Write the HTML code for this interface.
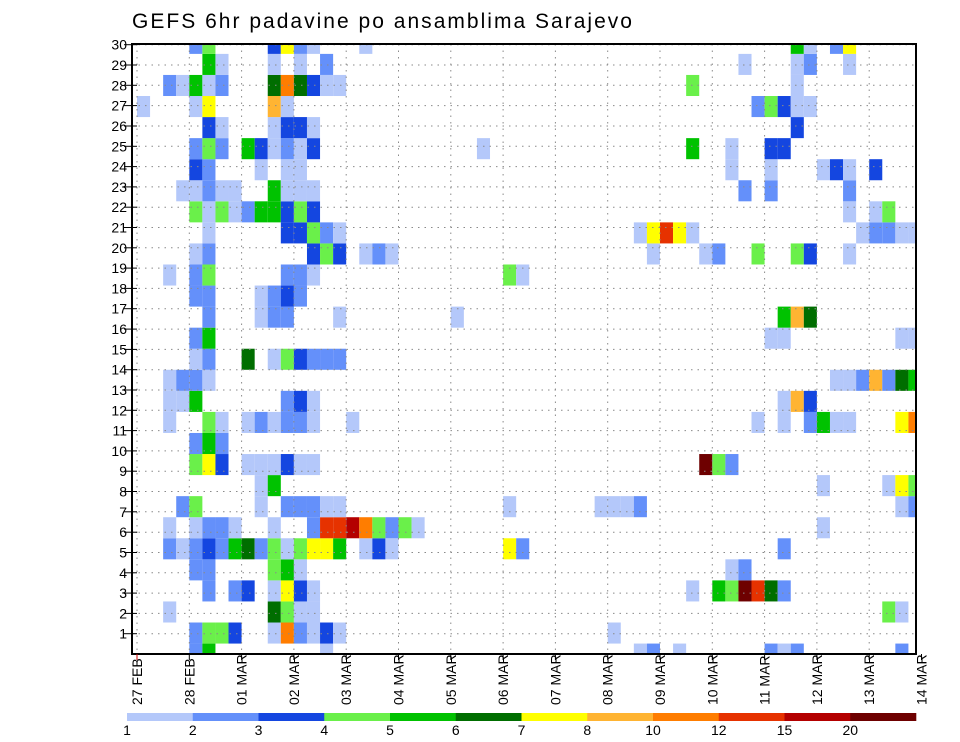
<!DOCTYPE html>
<html>
<head>
<meta charset="utf-8">
<style>
  html,body{margin:0;padding:0;background:#fff;}
  svg{display:block;font-family:"Liberation Sans",sans-serif;}
</style>
</head>
<body>
<svg id="chart" width="960" height="742" viewBox="0 0 960 742" xmlns="http://www.w3.org/2000/svg">
  <text x="132" y="28" font-size="21" textLength="500" lengthAdjust="spacing" fill="#000">GEFS 6hr padavine po ansamblima Sarajevo</text>
  <defs><clipPath id="plotclip"><rect x="132" y="44" width="784" height="610"/></clipPath></defs>
  <g id="cells" clip-path="url(#plotclip)"></g>
  <g id="grid"></g>
  <rect x="132" y="44" width="784" height="610" fill="none" stroke="#000" stroke-width="2"/>
  <g id="yaxis"></g>
  <g id="xaxis"></g>
  <g id="legend"></g>
</svg>
<script>
// ---- data ----
const dayLabels = ["27 FEB","28 FEB","01 MAR","02 MAR","03 MAR","04 MAR","05 MAR","06 MAR","07 MAR","08 MAR","09 MAR","10 MAR","11 MAR","12 MAR","13 MAR","14 MAR"];
const yTickLabels = [1,2,3,4,5,6,7,8,9,10,11,12,13,14,15,16,17,18,19,20,21,22,23,24,25,26,27,28,29,30];
const levelThresholds = [1,2,3,4,5,6,7,8,10,12,15,20];
const levelColors = ["#b4c8fa","#6490fa","#1446e0","#6af04a","#00c200","#006e00","#ffff00","#ffb432","#ff7d00","#e63200","#b40000","#6e0000"];
// member index 0..29 (bottom to top); steps = 6-hour step index; precip in mm
const memberSteps = [
  [4,5,14,38,39,41,48,49,50,58],
  [4,5,6,7,10,11,12,13,14,15,36],
  [2,10,11,12,13,57,58],
  [5,7,8,10,11,12,13,42,44,45,46,47,48,49],
  [4,5,10,11,12,45,46],
  [2,3,4,5,6,7,8,9,10,11,12,13,14,15,17,18,19,28,29,49],
  [2,4,5,6,7,10,13,14,15,16,17,18,19,20,21,52],
  [3,4,9,11,12,13,14,15,28,35,36,37,38,58,59],
  [9,10,52,57,58,59],
  [4,5,6,8,9,10,11,12,13,43,44,45],
  [4,5,6],
  [2,5,6,8,9,10,11,12,13,16,47,49,51,52,53,54,58,59],
  [2,3,4,11,12,13,49,50,51],
  [2,3,4,5,53,54,55,56,57,58,59],
  [4,5,8,10,11,12,13,14,15],
  [4,5,48,49,58,59],
  [5,9,10,11,15,24,49,50,51],
  [4,5,9,10,11,12],
  [2,4,5,11,12,13,28,29],
  [4,5,13,14,15,17,18,19,39,43,44,47,50,51,54],
  [5,11,12,13,14,15,38,39,40,41,42,55,56,57,58,59],
  [4,5,6,7,8,9,10,11,12,13,54,56,57],
  [3,4,5,6,7,10,11,12,13,46,48,54],
  [4,5,9,11,12,45,48,52,53,54,56],
  [4,5,6,8,9,10,11,12,13,26,42,45,48,49],
  [5,6,10,11,12,13,50],
  [0,4,5,10,11,47,48,49,50,51],
  [2,3,4,5,6,10,11,12,13,14,15,42,50],
  [5,6,10,12,14,46,50,51,54],
  [4,5,10,11,12,13,17,50,51,53,54]
];
const memberPrecip = [
  [2,5,1,1,2,1,2,1,2,2],
  [2,4,4,3,1,10,2,1,3,1,1],
  [1,6,4,1,1,4,1],
  [2,2,3,1,7,3,1,1,5,4,20,12,6,2],
  [2,2,4,5,1,1,2],
  [2,1,2,3,2,5,6,2,4,1,4,7,7,5,1,3,1,7,2,2],
  [1,1,2,2,1,1,2,12,12,15,10,4,2,4,1,1],
  [2,4,1,2,2,2,1,1,1,1,1,1,2,1,2],
  [1,5,1,1,7,4],
  [4,7,3,1,1,1,3,1,1,20,4,2],
  [2,5,2],
  [1,4,1,1,2,1,2,2,1,1,1,1,2,5,1,1,7,10],
  [1,1,5,2,3,1,1,8,3],
  [1,2,2,1,1,1,2,8,2,6,5],
  [1,2,6,1,4,3,2,2,2],
  [2,5,1,1,1,1],
  [2,1,2,2,1,1,5,8,6],
  [2,2,1,2,3,2],
  [1,2,4,2,2,1,4,1],
  [1,2,3,4,3,1,2,1,1,1,2,4,4,3,1],
  [1,3,3,4,2,1,1,7,12,7,1,1,2,2,1,1],
  [4,1,4,1,2,5,5,3,4,3,1,1,4],
  [1,1,2,1,1,5,1,1,1,2,2,2],
  [3,2,1,1,1,1,1,1,3,1,3],
  [2,4,2,5,3,1,2,1,3,1,5,1,3,3],
  [3,1,1,3,3,1,3],
  [1,1,7,8,1,2,4,3,1,1],
  [2,1,5,1,2,6,10,6,3,1,1,4,1],
  [5,1,1,1,2,1,1,2,1],
  [2,4,3,7,2,1,1,5,1,2,7]
];

// ---- axis functions ----
const NS = "http://www.w3.org/2000/svg";
const X0 = 137, DAYW = 52.3, STEPW = DAYW/4;
const PL = 132, PR = 916, PT = 44, PB = 654;
const ROWH = 21.06, ROW0 = 654.1;
function xStep(s){ return X0 + s*STEPW; }
function xDay(d){ return X0 + d*DAYW; }
function yMember(m){ return ROW0 - m*ROWH; }
function yLabel(v){ return 633.7 - (v-1)*20.31; }
function colorFor(v){
  let idx = -1;
  for (let i=0;i<levelThresholds.length;i++){ if (v >= levelThresholds[i]) idx = i; }
  return idx < 0 ? null : levelColors[idx];
}
function mk(tag, attrs, parent){
  const e = document.createElementNS(NS, tag);
  for (const k in attrs) e.setAttribute(k, attrs[k]);
  parent.appendChild(e);
  return e;
}

// ---- cells ----
const cellsG = document.getElementById("cells");
for (let m=0; m<memberSteps.length; m++){
  const steps = memberSteps[m], vals = memberPrecip[m];
  for (let i=0;i<steps.length;i++){
    const col = colorFor(vals[i]);
    if (!col) continue;
    const r = mk("rect", {x: xStep(steps[i]).toFixed(2), y: (yMember(m)-ROWH/2).toFixed(2), width: STEPW.toFixed(2), height: ROWH.toFixed(2), fill: col}, cellsG);
    
    
  }
}

// ---- grid ----
const gridG = document.getElementById("grid");
for (let i=0;i<yTickLabels.length;i++){
  const y = yLabel(yTickLabels[i]);
  const l = mk("line", {x1: PL, x2: PR, y1: y.toFixed(1), y2: y.toFixed(1), stroke: "#8a8a8a", "stroke-width": 1, "stroke-dasharray": "1.5,5"}, gridG);
  
  
}
for (let d=0; d<dayLabels.length; d++){
  const x = xDay(d);
  if (x > PR) continue;
  const l = mk("line", {x1: x.toFixed(1), x2: x.toFixed(1), y1: PT, y2: PB, stroke: "#8a8a8a", "stroke-width": 1, "stroke-dasharray": "1.5,5"}, gridG);
  
  
}

// ---- y axis ----
const yG = document.getElementById("yaxis");
for (let i=0;i<yTickLabels.length;i++){
  const v = yTickLabels[i], y = yLabel(v);
  const t = mk("line", {x1: 124, x2: 137, y1: y.toFixed(1), y2: y.toFixed(1), stroke: "#000", "stroke-width": 1}, yG);
  
  
  const tx = mk("text", {x: 127, y: (y+5).toFixed(1), "text-anchor": "end", "font-size": 14, fill: "#000"}, yG);
  tx.textContent = v;
  
  
}

// ---- x axis ----
const xG = document.getElementById("xaxis");
for (let d=0; d<dayLabels.length; d++){
  const x = xDay(d);
  const t = mk("line", {x1: x.toFixed(1), x2: x.toFixed(1), y1: PB, y2: PB+6, stroke: d===0 ? "#c00" : "#000", "stroke-width": 1}, xG);
  
  
  const bx = x + 5, by = 705;
  const tx = mk("text", {x: bx.toFixed(1), y: by, transform: "rotate(-90 " + bx.toFixed(1) + " " + by + ")", "font-size": 14, fill: "#000"}, xG);
  tx.textContent = dayLabels[d];
  
  
}

// ---- legend ----
const lg = document.getElementById("legend");
const LX0 = 127, LX1 = 916, LY = 713, LH = 8;
const segW = (LX1-LX0)/levelColors.length;
for (let i=0;i<levelColors.length;i++){
  const r = mk("rect", {x: (LX0+i*segW).toFixed(2), y: LY, width: (segW+0.3).toFixed(2), height: LH, fill: levelColors[i]}, lg);
  
  
  const t = mk("text", {x: (LX0+i*segW).toFixed(1), y: 735, "text-anchor": "middle", "font-size": 14, fill: "#000"}, lg);
  t.textContent = levelThresholds[i];
  
  
}
</script>
</body>
</html>
